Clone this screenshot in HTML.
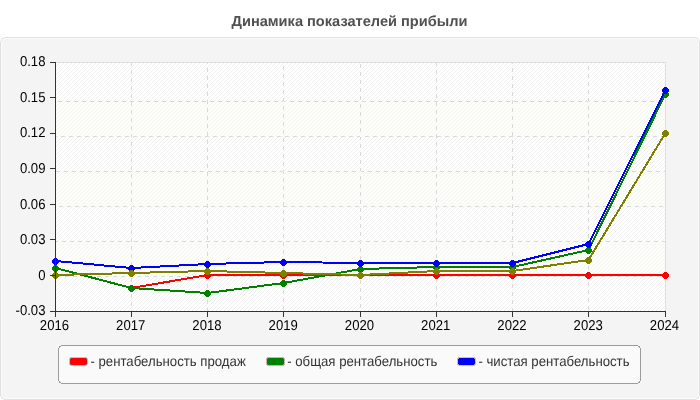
<!DOCTYPE html><html><head><meta charset="utf-8"><style>html,body{margin:0;padding:0;background:#fff;width:700px;height:400px;overflow:hidden}#c{position:absolute;left:0;top:0;width:700px;height:400px;will-change:transform}svg{display:block}text{font-family:"Liberation Sans",sans-serif;text-rendering:geometricPrecision}</style></head><body><div id="c">
<svg width="700" height="400" viewBox="0 0 700 400">
<defs>
<pattern id="h" patternUnits="userSpaceOnUse" x="3" y="0" width="4" height="4"><path d="M-1,1 l2,-2 M0,4 l4,-4 M3,5 l2,-2" stroke="#f0f0f0" stroke-width="1" shape-rendering="crispEdges"/></pattern>
<pattern id="h2" patternUnits="userSpaceOnUse" x="3" y="0" width="4" height="4"><path d="M-1,1 l2,-2 M0,4 l4,-4 M3,5 l2,-2" stroke="#f5f5f1" stroke-width="1" shape-rendering="crispEdges"/></pattern>
</defs>
<text x="349.5" y="25.7" text-anchor="middle" font-size="14.6" font-weight="bold" fill="#505050">Динамика показателей прибыли</text>
<rect x="0.5" y="37.5" width="699" height="362" rx="5.5" ry="5.5" fill="#f4f4f4" stroke="#e0e0e0" shape-rendering="crispEdges"/>
<rect x="1.5" y="38.5" width="697" height="360" rx="4.5" ry="4.5" fill="none" stroke="#fbfbfb" shape-rendering="crispEdges"/>
<rect x="55" y="62" width="610" height="249" fill="#fff"/>
<rect x="55" y="62" width="610" height="249" fill="url(#h)"/>
<rect x="55" y="102" width="610" height="35" fill="#fdfdf9"/>
<rect x="55" y="102" width="610" height="35" fill="url(#h2)"/>
<rect x="55" y="172" width="610" height="35" fill="#fdfdf9"/>
<rect x="55" y="172" width="610" height="35" fill="url(#h2)"/>
<rect x="55" y="242" width="610" height="35" fill="#fdfdf9"/>
<rect x="55" y="242" width="610" height="35" fill="url(#h2)"/>
<rect x="55.5" y="62.5" width="610" height="249" fill="none" stroke="#dedede"/>
<path d="M58,101h4v1h-4zM66,101h4v1h-4zM74,101h4v1h-4zM82,101h4v1h-4zM90,101h4v1h-4zM98,101h4v1h-4zM106,101h4v1h-4zM114,101h4v1h-4zM122,101h4v1h-4zM130,101h4v1h-4zM138,101h4v1h-4zM146,101h4v1h-4zM154,101h4v1h-4zM162,101h4v1h-4zM170,101h4v1h-4zM178,101h4v1h-4zM186,101h4v1h-4zM194,101h4v1h-4zM202,101h4v1h-4zM210,101h4v1h-4zM218,101h4v1h-4zM226,101h4v1h-4zM234,101h4v1h-4zM242,101h4v1h-4zM250,101h4v1h-4zM258,101h4v1h-4zM266,101h4v1h-4zM274,101h4v1h-4zM282,101h4v1h-4zM290,101h4v1h-4zM298,101h4v1h-4zM306,101h4v1h-4zM314,101h4v1h-4zM322,101h4v1h-4zM330,101h4v1h-4zM338,101h4v1h-4zM346,101h4v1h-4zM354,101h4v1h-4zM362,101h4v1h-4zM370,101h4v1h-4zM378,101h4v1h-4zM386,101h4v1h-4zM394,101h4v1h-4zM402,101h4v1h-4zM410,101h4v1h-4zM418,101h4v1h-4zM426,101h4v1h-4zM434,101h4v1h-4zM442,101h4v1h-4zM450,101h4v1h-4zM458,101h4v1h-4zM466,101h4v1h-4zM474,101h4v1h-4zM482,101h4v1h-4zM490,101h4v1h-4zM498,101h4v1h-4zM506,101h4v1h-4zM514,101h4v1h-4zM522,101h4v1h-4zM530,101h4v1h-4zM538,101h4v1h-4zM546,101h4v1h-4zM554,101h4v1h-4zM562,101h4v1h-4zM570,101h4v1h-4zM578,101h4v1h-4zM586,101h4v1h-4zM594,101h4v1h-4zM602,101h4v1h-4zM610,101h4v1h-4zM618,101h4v1h-4zM626,101h4v1h-4zM634,101h4v1h-4zM642,101h4v1h-4zM650,101h4v1h-4zM658,101h4v1h-4zM56,136h1v1h-1zM61,136h4v1h-4zM69,136h4v1h-4zM77,136h4v1h-4zM85,136h4v1h-4zM93,136h4v1h-4zM101,136h4v1h-4zM109,136h4v1h-4zM117,136h4v1h-4zM125,136h4v1h-4zM133,136h4v1h-4zM141,136h4v1h-4zM149,136h4v1h-4zM157,136h4v1h-4zM165,136h4v1h-4zM173,136h4v1h-4zM181,136h4v1h-4zM189,136h4v1h-4zM197,136h4v1h-4zM205,136h4v1h-4zM213,136h4v1h-4zM221,136h4v1h-4zM229,136h4v1h-4zM237,136h4v1h-4zM245,136h4v1h-4zM253,136h4v1h-4zM261,136h4v1h-4zM269,136h4v1h-4zM277,136h4v1h-4zM285,136h4v1h-4zM293,136h4v1h-4zM301,136h4v1h-4zM309,136h4v1h-4zM317,136h4v1h-4zM325,136h4v1h-4zM333,136h4v1h-4zM341,136h4v1h-4zM349,136h4v1h-4zM357,136h4v1h-4zM365,136h4v1h-4zM373,136h4v1h-4zM381,136h4v1h-4zM389,136h4v1h-4zM397,136h4v1h-4zM405,136h4v1h-4zM413,136h4v1h-4zM421,136h4v1h-4zM429,136h4v1h-4zM437,136h4v1h-4zM445,136h4v1h-4zM453,136h4v1h-4zM461,136h4v1h-4zM469,136h4v1h-4zM477,136h4v1h-4zM485,136h4v1h-4zM493,136h4v1h-4zM501,136h4v1h-4zM509,136h4v1h-4zM517,136h4v1h-4zM525,136h4v1h-4zM533,136h4v1h-4zM541,136h4v1h-4zM549,136h4v1h-4zM557,136h4v1h-4zM565,136h4v1h-4zM573,136h4v1h-4zM581,136h4v1h-4zM589,136h4v1h-4zM597,136h4v1h-4zM605,136h4v1h-4zM613,136h4v1h-4zM621,136h4v1h-4zM629,136h4v1h-4zM637,136h4v1h-4zM645,136h4v1h-4zM653,136h4v1h-4zM661,136h4v1h-4zM56,171h4v1h-4zM64,171h4v1h-4zM72,171h4v1h-4zM80,171h4v1h-4zM88,171h4v1h-4zM96,171h4v1h-4zM104,171h4v1h-4zM112,171h4v1h-4zM120,171h4v1h-4zM128,171h4v1h-4zM136,171h4v1h-4zM144,171h4v1h-4zM152,171h4v1h-4zM160,171h4v1h-4zM168,171h4v1h-4zM176,171h4v1h-4zM184,171h4v1h-4zM192,171h4v1h-4zM200,171h4v1h-4zM208,171h4v1h-4zM216,171h4v1h-4zM224,171h4v1h-4zM232,171h4v1h-4zM240,171h4v1h-4zM248,171h4v1h-4zM256,171h4v1h-4zM264,171h4v1h-4zM272,171h4v1h-4zM280,171h4v1h-4zM288,171h4v1h-4zM296,171h4v1h-4zM304,171h4v1h-4zM312,171h4v1h-4zM320,171h4v1h-4zM328,171h4v1h-4zM336,171h4v1h-4zM344,171h4v1h-4zM352,171h4v1h-4zM360,171h4v1h-4zM368,171h4v1h-4zM376,171h4v1h-4zM384,171h4v1h-4zM392,171h4v1h-4zM400,171h4v1h-4zM408,171h4v1h-4zM416,171h4v1h-4zM424,171h4v1h-4zM432,171h4v1h-4zM440,171h4v1h-4zM448,171h4v1h-4zM456,171h4v1h-4zM464,171h4v1h-4zM472,171h4v1h-4zM480,171h4v1h-4zM488,171h4v1h-4zM496,171h4v1h-4zM504,171h4v1h-4zM512,171h4v1h-4zM520,171h4v1h-4zM528,171h4v1h-4zM536,171h4v1h-4zM544,171h4v1h-4zM552,171h4v1h-4zM560,171h4v1h-4zM568,171h4v1h-4zM576,171h4v1h-4zM584,171h4v1h-4zM592,171h4v1h-4zM600,171h4v1h-4zM608,171h4v1h-4zM616,171h4v1h-4zM624,171h4v1h-4zM632,171h4v1h-4zM640,171h4v1h-4zM648,171h4v1h-4zM656,171h4v1h-4zM664,171h1v1h-1zM59,206h4v1h-4zM67,206h4v1h-4zM75,206h4v1h-4zM83,206h4v1h-4zM91,206h4v1h-4zM99,206h4v1h-4zM107,206h4v1h-4zM115,206h4v1h-4zM123,206h4v1h-4zM131,206h4v1h-4zM139,206h4v1h-4zM147,206h4v1h-4zM155,206h4v1h-4zM163,206h4v1h-4zM171,206h4v1h-4zM179,206h4v1h-4zM187,206h4v1h-4zM195,206h4v1h-4zM203,206h4v1h-4zM211,206h4v1h-4zM219,206h4v1h-4zM227,206h4v1h-4zM235,206h4v1h-4zM243,206h4v1h-4zM251,206h4v1h-4zM259,206h4v1h-4zM267,206h4v1h-4zM275,206h4v1h-4zM283,206h4v1h-4zM291,206h4v1h-4zM299,206h4v1h-4zM307,206h4v1h-4zM315,206h4v1h-4zM323,206h4v1h-4zM331,206h4v1h-4zM339,206h4v1h-4zM347,206h4v1h-4zM355,206h4v1h-4zM363,206h4v1h-4zM371,206h4v1h-4zM379,206h4v1h-4zM387,206h4v1h-4zM395,206h4v1h-4zM403,206h4v1h-4zM411,206h4v1h-4zM419,206h4v1h-4zM427,206h4v1h-4zM435,206h4v1h-4zM443,206h4v1h-4zM451,206h4v1h-4zM459,206h4v1h-4zM467,206h4v1h-4zM475,206h4v1h-4zM483,206h4v1h-4zM491,206h4v1h-4zM499,206h4v1h-4zM507,206h4v1h-4zM515,206h4v1h-4zM523,206h4v1h-4zM531,206h4v1h-4zM539,206h4v1h-4zM547,206h4v1h-4zM555,206h4v1h-4zM563,206h4v1h-4zM571,206h4v1h-4zM579,206h4v1h-4zM587,206h4v1h-4zM595,206h4v1h-4zM603,206h4v1h-4zM611,206h4v1h-4zM619,206h4v1h-4zM627,206h4v1h-4zM635,206h4v1h-4zM643,206h4v1h-4zM651,206h4v1h-4zM659,206h4v1h-4zM56,241h2v1h-2zM62,241h4v1h-4zM70,241h4v1h-4zM78,241h4v1h-4zM86,241h4v1h-4zM94,241h4v1h-4zM102,241h4v1h-4zM110,241h4v1h-4zM118,241h4v1h-4zM126,241h4v1h-4zM134,241h4v1h-4zM142,241h4v1h-4zM150,241h4v1h-4zM158,241h4v1h-4zM166,241h4v1h-4zM174,241h4v1h-4zM182,241h4v1h-4zM190,241h4v1h-4zM198,241h4v1h-4zM206,241h4v1h-4zM214,241h4v1h-4zM222,241h4v1h-4zM230,241h4v1h-4zM238,241h4v1h-4zM246,241h4v1h-4zM254,241h4v1h-4zM262,241h4v1h-4zM270,241h4v1h-4zM278,241h4v1h-4zM286,241h4v1h-4zM294,241h4v1h-4zM302,241h4v1h-4zM310,241h4v1h-4zM318,241h4v1h-4zM326,241h4v1h-4zM334,241h4v1h-4zM342,241h4v1h-4zM350,241h4v1h-4zM358,241h4v1h-4zM366,241h4v1h-4zM374,241h4v1h-4zM382,241h4v1h-4zM390,241h4v1h-4zM398,241h4v1h-4zM406,241h4v1h-4zM414,241h4v1h-4zM422,241h4v1h-4zM430,241h4v1h-4zM438,241h4v1h-4zM446,241h4v1h-4zM454,241h4v1h-4zM462,241h4v1h-4zM470,241h4v1h-4zM478,241h4v1h-4zM486,241h4v1h-4zM494,241h4v1h-4zM502,241h4v1h-4zM510,241h4v1h-4zM518,241h4v1h-4zM526,241h4v1h-4zM534,241h4v1h-4zM542,241h4v1h-4zM550,241h4v1h-4zM558,241h4v1h-4zM566,241h4v1h-4zM574,241h4v1h-4zM582,241h4v1h-4zM590,241h4v1h-4zM598,241h4v1h-4zM606,241h4v1h-4zM614,241h4v1h-4zM622,241h4v1h-4zM630,241h4v1h-4zM638,241h4v1h-4zM646,241h4v1h-4zM654,241h4v1h-4zM662,241h3v1h-3zM57,276h4v1h-4zM65,276h4v1h-4zM73,276h4v1h-4zM81,276h4v1h-4zM89,276h4v1h-4zM97,276h4v1h-4zM105,276h4v1h-4zM113,276h4v1h-4zM121,276h4v1h-4zM129,276h4v1h-4zM137,276h4v1h-4zM145,276h4v1h-4zM153,276h4v1h-4zM161,276h4v1h-4zM169,276h4v1h-4zM177,276h4v1h-4zM185,276h4v1h-4zM193,276h4v1h-4zM201,276h4v1h-4zM209,276h4v1h-4zM217,276h4v1h-4zM225,276h4v1h-4zM233,276h4v1h-4zM241,276h4v1h-4zM249,276h4v1h-4zM257,276h4v1h-4zM265,276h4v1h-4zM273,276h4v1h-4zM281,276h4v1h-4zM289,276h4v1h-4zM297,276h4v1h-4zM305,276h4v1h-4zM313,276h4v1h-4zM321,276h4v1h-4zM329,276h4v1h-4zM337,276h4v1h-4zM345,276h4v1h-4zM353,276h4v1h-4zM361,276h4v1h-4zM369,276h4v1h-4zM377,276h4v1h-4zM385,276h4v1h-4zM393,276h4v1h-4zM401,276h4v1h-4zM409,276h4v1h-4zM417,276h4v1h-4zM425,276h4v1h-4zM433,276h4v1h-4zM441,276h4v1h-4zM449,276h4v1h-4zM457,276h4v1h-4zM465,276h4v1h-4zM473,276h4v1h-4zM481,276h4v1h-4zM489,276h4v1h-4zM497,276h4v1h-4zM505,276h4v1h-4zM513,276h4v1h-4zM521,276h4v1h-4zM529,276h4v1h-4zM537,276h4v1h-4zM545,276h4v1h-4zM553,276h4v1h-4zM561,276h4v1h-4zM569,276h4v1h-4zM577,276h4v1h-4zM585,276h4v1h-4zM593,276h4v1h-4zM601,276h4v1h-4zM609,276h4v1h-4zM617,276h4v1h-4zM625,276h4v1h-4zM633,276h4v1h-4zM641,276h4v1h-4zM649,276h4v1h-4zM657,276h4v1h-4zM131,63v3h1v-3zM131,70v4h1v-4zM131,78v4h1v-4zM131,86v4h1v-4zM131,94v4h1v-4zM131,102v4h1v-4zM131,110v4h1v-4zM131,118v4h1v-4zM131,126v4h1v-4zM131,134v4h1v-4zM131,142v4h1v-4zM131,150v4h1v-4zM131,158v4h1v-4zM131,166v4h1v-4zM131,174v4h1v-4zM131,182v4h1v-4zM131,190v4h1v-4zM131,198v4h1v-4zM131,206v4h1v-4zM131,214v4h1v-4zM131,222v4h1v-4zM131,230v4h1v-4zM131,238v4h1v-4zM131,246v4h1v-4zM131,254v4h1v-4zM131,262v4h1v-4zM131,270v4h1v-4zM131,278v4h1v-4zM131,286v4h1v-4zM131,294v4h1v-4zM131,302v4h1v-4zM131,310v1h1v-1zM207,63v1h1v-1zM207,68v4h1v-4zM207,76v4h1v-4zM207,84v4h1v-4zM207,92v4h1v-4zM207,100v4h1v-4zM207,108v4h1v-4zM207,116v4h1v-4zM207,124v4h1v-4zM207,132v4h1v-4zM207,140v4h1v-4zM207,148v4h1v-4zM207,156v4h1v-4zM207,164v4h1v-4zM207,172v4h1v-4zM207,180v4h1v-4zM207,188v4h1v-4zM207,196v4h1v-4zM207,204v4h1v-4zM207,212v4h1v-4zM207,220v4h1v-4zM207,228v4h1v-4zM207,236v4h1v-4zM207,244v4h1v-4zM207,252v4h1v-4zM207,260v4h1v-4zM207,268v4h1v-4zM207,276v4h1v-4zM207,284v4h1v-4zM207,292v4h1v-4zM207,300v4h1v-4zM207,308v3h1v-3zM283,66v4h1v-4zM283,74v4h1v-4zM283,82v4h1v-4zM283,90v4h1v-4zM283,98v4h1v-4zM283,106v4h1v-4zM283,114v4h1v-4zM283,122v4h1v-4zM283,130v4h1v-4zM283,138v4h1v-4zM283,146v4h1v-4zM283,154v4h1v-4zM283,162v4h1v-4zM283,170v4h1v-4zM283,178v4h1v-4zM283,186v4h1v-4zM283,194v4h1v-4zM283,202v4h1v-4zM283,210v4h1v-4zM283,218v4h1v-4zM283,226v4h1v-4zM283,234v4h1v-4zM283,242v4h1v-4zM283,250v4h1v-4zM283,258v4h1v-4zM283,266v4h1v-4zM283,274v4h1v-4zM283,282v4h1v-4zM283,290v4h1v-4zM283,298v4h1v-4zM283,306v4h1v-4zM360,64v4h1v-4zM360,72v4h1v-4zM360,80v4h1v-4zM360,88v4h1v-4zM360,96v4h1v-4zM360,104v4h1v-4zM360,112v4h1v-4zM360,120v4h1v-4zM360,128v4h1v-4zM360,136v4h1v-4zM360,144v4h1v-4zM360,152v4h1v-4zM360,160v4h1v-4zM360,168v4h1v-4zM360,176v4h1v-4zM360,184v4h1v-4zM360,192v4h1v-4zM360,200v4h1v-4zM360,208v4h1v-4zM360,216v4h1v-4zM360,224v4h1v-4zM360,232v4h1v-4zM360,240v4h1v-4zM360,248v4h1v-4zM360,256v4h1v-4zM360,264v4h1v-4zM360,272v4h1v-4zM360,280v4h1v-4zM360,288v4h1v-4zM360,296v4h1v-4zM360,304v4h1v-4zM436,63v3h1v-3zM436,70v4h1v-4zM436,78v4h1v-4zM436,86v4h1v-4zM436,94v4h1v-4zM436,102v4h1v-4zM436,110v4h1v-4zM436,118v4h1v-4zM436,126v4h1v-4zM436,134v4h1v-4zM436,142v4h1v-4zM436,150v4h1v-4zM436,158v4h1v-4zM436,166v4h1v-4zM436,174v4h1v-4zM436,182v4h1v-4zM436,190v4h1v-4zM436,198v4h1v-4zM436,206v4h1v-4zM436,214v4h1v-4zM436,222v4h1v-4zM436,230v4h1v-4zM436,238v4h1v-4zM436,246v4h1v-4zM436,254v4h1v-4zM436,262v4h1v-4zM436,270v4h1v-4zM436,278v4h1v-4zM436,286v4h1v-4zM436,294v4h1v-4zM436,302v4h1v-4zM436,310v1h1v-1zM512,63v1h1v-1zM512,68v4h1v-4zM512,76v4h1v-4zM512,84v4h1v-4zM512,92v4h1v-4zM512,100v4h1v-4zM512,108v4h1v-4zM512,116v4h1v-4zM512,124v4h1v-4zM512,132v4h1v-4zM512,140v4h1v-4zM512,148v4h1v-4zM512,156v4h1v-4zM512,164v4h1v-4zM512,172v4h1v-4zM512,180v4h1v-4zM512,188v4h1v-4zM512,196v4h1v-4zM512,204v4h1v-4zM512,212v4h1v-4zM512,220v4h1v-4zM512,228v4h1v-4zM512,236v4h1v-4zM512,244v4h1v-4zM512,252v4h1v-4zM512,260v4h1v-4zM512,268v4h1v-4zM512,276v4h1v-4zM512,284v4h1v-4zM512,292v4h1v-4zM512,300v4h1v-4zM512,308v3h1v-3zM588,66v4h1v-4zM588,74v4h1v-4zM588,82v4h1v-4zM588,90v4h1v-4zM588,98v4h1v-4zM588,106v4h1v-4zM588,114v4h1v-4zM588,122v4h1v-4zM588,130v4h1v-4zM588,138v4h1v-4zM588,146v4h1v-4zM588,154v4h1v-4zM588,162v4h1v-4zM588,170v4h1v-4zM588,178v4h1v-4zM588,186v4h1v-4zM588,194v4h1v-4zM588,202v4h1v-4zM588,210v4h1v-4zM588,218v4h1v-4zM588,226v4h1v-4zM588,234v4h1v-4zM588,242v4h1v-4zM588,250v4h1v-4zM588,258v4h1v-4zM588,266v4h1v-4zM588,274v4h1v-4zM588,282v4h1v-4zM588,290v4h1v-4zM588,298v4h1v-4zM588,306v4h1v-4z" fill="#d9d9d9" shape-rendering="crispEdges"/>
<polyline points="131.50,288.00 207.50,275.00 283.50,275.00 360.50,275.00 436.50,275.00 512.50,275.00 588.50,275.00 665.50,275.00" fill="none" stroke="#ff0000" stroke-width="2" stroke-linejoin="round" shape-rendering="crispEdges"/>
<circle cx="131.5" cy="288.5" r="3.4" fill="#ff0000" shape-rendering="crispEdges"/>
<circle cx="207.5" cy="275.5" r="3.4" fill="#ff0000" shape-rendering="crispEdges"/>
<circle cx="283.5" cy="275.5" r="3.4" fill="#ff0000" shape-rendering="crispEdges"/>
<circle cx="360.5" cy="275.5" r="3.4" fill="#ff0000" shape-rendering="crispEdges"/>
<circle cx="436.5" cy="275.5" r="3.4" fill="#ff0000" shape-rendering="crispEdges"/>
<circle cx="512.5" cy="275.5" r="3.4" fill="#ff0000" shape-rendering="crispEdges"/>
<circle cx="588.5" cy="275.5" r="3.4" fill="#ff0000" shape-rendering="crispEdges"/>
<circle cx="665.5" cy="275.5" r="3.4" fill="#ff0000" shape-rendering="crispEdges"/>
<polyline points="55.50,268.00 131.50,288.00 207.50,293.00 283.50,283.00 360.50,269.00 436.50,267.00 512.50,267.00 588.50,250.00 665.50,94.00" fill="none" stroke="#008000" stroke-width="2" stroke-linejoin="round" shape-rendering="crispEdges"/>
<circle cx="55.5" cy="268.5" r="3.4" fill="#008000" shape-rendering="crispEdges"/>
<circle cx="131.5" cy="288.5" r="3.4" fill="#008000" shape-rendering="crispEdges"/>
<circle cx="207.5" cy="293.5" r="3.4" fill="#008000" shape-rendering="crispEdges"/>
<circle cx="283.5" cy="283.5" r="3.4" fill="#008000" shape-rendering="crispEdges"/>
<circle cx="360.5" cy="269.5" r="3.4" fill="#008000" shape-rendering="crispEdges"/>
<circle cx="436.5" cy="267.5" r="3.4" fill="#008000" shape-rendering="crispEdges"/>
<circle cx="512.5" cy="267.5" r="3.4" fill="#008000" shape-rendering="crispEdges"/>
<circle cx="588.5" cy="250.5" r="3.4" fill="#008000" shape-rendering="crispEdges"/>
<circle cx="665.5" cy="94.5" r="3.4" fill="#008000" shape-rendering="crispEdges"/>
<polyline points="55.50,261.00 131.50,268.00 207.50,264.00 283.50,262.00 360.50,263.00 436.50,263.00 512.50,263.00 588.50,244.00 665.50,90.00" fill="none" stroke="#0000ff" stroke-width="2" stroke-linejoin="round" shape-rendering="crispEdges"/>
<circle cx="55.5" cy="261.5" r="3.4" fill="#0000ff" shape-rendering="crispEdges"/>
<circle cx="131.5" cy="268.5" r="3.4" fill="#0000ff" shape-rendering="crispEdges"/>
<circle cx="207.5" cy="264.5" r="3.4" fill="#0000ff" shape-rendering="crispEdges"/>
<circle cx="283.5" cy="262.5" r="3.4" fill="#0000ff" shape-rendering="crispEdges"/>
<circle cx="360.5" cy="263.5" r="3.4" fill="#0000ff" shape-rendering="crispEdges"/>
<circle cx="436.5" cy="263.5" r="3.4" fill="#0000ff" shape-rendering="crispEdges"/>
<circle cx="512.5" cy="263.5" r="3.4" fill="#0000ff" shape-rendering="crispEdges"/>
<circle cx="588.5" cy="244.5" r="3.4" fill="#0000ff" shape-rendering="crispEdges"/>
<circle cx="665.5" cy="90.5" r="3.4" fill="#0000ff" shape-rendering="crispEdges"/>
<polyline points="55.50,275.00 131.50,273.00 207.50,271.00 283.50,273.00 360.50,275.00 436.50,271.00 512.50,271.00 588.50,260.00 665.50,133.00" fill="none" stroke="#808000" stroke-width="2" stroke-linejoin="round" shape-rendering="crispEdges"/>
<circle cx="55.5" cy="275.5" r="3.4" fill="#808000" shape-rendering="crispEdges"/>
<circle cx="131.5" cy="273.5" r="3.4" fill="#808000" shape-rendering="crispEdges"/>
<circle cx="207.5" cy="271.5" r="3.4" fill="#808000" shape-rendering="crispEdges"/>
<circle cx="283.5" cy="273.5" r="3.4" fill="#808000" shape-rendering="crispEdges"/>
<circle cx="360.5" cy="275.5" r="3.4" fill="#808000" shape-rendering="crispEdges"/>
<circle cx="436.5" cy="271.5" r="3.4" fill="#808000" shape-rendering="crispEdges"/>
<circle cx="512.5" cy="271.5" r="3.4" fill="#808000" shape-rendering="crispEdges"/>
<circle cx="588.5" cy="260.5" r="3.4" fill="#808000" shape-rendering="crispEdges"/>
<circle cx="665.5" cy="133.5" r="3.4" fill="#808000" shape-rendering="crispEdges"/>
<line x1="55.5" y1="62" x2="55.5" y2="312" stroke="#333"/>
<line x1="55" y1="311.5" x2="666" y2="311.5" stroke="#333"/>
<line x1="50" y1="62.5" x2="55" y2="62.5" stroke="#333"/>
<text transform="translate(45.5,66.30) scale(0.092,0.1)" text-anchor="end" font-size="143.0" fill="#000">0.18</text>
<line x1="50" y1="97.5" x2="55" y2="97.5" stroke="#333"/>
<text transform="translate(45.5,101.87) scale(0.092,0.1)" text-anchor="end" font-size="143.0" fill="#000">0.15</text>
<line x1="50" y1="133.5" x2="55" y2="133.5" stroke="#333"/>
<text transform="translate(45.5,137.44) scale(0.092,0.1)" text-anchor="end" font-size="143.0" fill="#000">0.12</text>
<line x1="50" y1="168.5" x2="55" y2="168.5" stroke="#333"/>
<text transform="translate(45.5,173.01) scale(0.092,0.1)" text-anchor="end" font-size="143.0" fill="#000">0.09</text>
<line x1="50" y1="204.5" x2="55" y2="204.5" stroke="#333"/>
<text transform="translate(45.5,208.59) scale(0.092,0.1)" text-anchor="end" font-size="143.0" fill="#000">0.06</text>
<line x1="50" y1="239.5" x2="55" y2="239.5" stroke="#333"/>
<text transform="translate(45.5,244.16) scale(0.092,0.1)" text-anchor="end" font-size="143.0" fill="#000">0.03</text>
<line x1="50" y1="275.5" x2="55" y2="275.5" stroke="#333"/>
<text transform="translate(45.5,279.73) scale(0.092,0.1)" text-anchor="end" font-size="143.0" fill="#000">0</text>
<line x1="50" y1="311.5" x2="55" y2="311.5" stroke="#333"/>
<text transform="translate(45.5,315.30) scale(0.092,0.1)" text-anchor="end" font-size="143.0" fill="#000">-0.03</text>
<line x1="55.5" y1="311" x2="55.5" y2="317" stroke="#333"/>
<text transform="translate(54.50,329.9) scale(0.092,0.1)" text-anchor="middle" font-size="143.0" fill="#000">2016</text>
<line x1="131.5" y1="311" x2="131.5" y2="317" stroke="#333"/>
<text transform="translate(130.75,329.9) scale(0.092,0.1)" text-anchor="middle" font-size="143.0" fill="#000">2017</text>
<line x1="207.5" y1="311" x2="207.5" y2="317" stroke="#333"/>
<text transform="translate(207.00,329.9) scale(0.092,0.1)" text-anchor="middle" font-size="143.0" fill="#000">2018</text>
<line x1="283.5" y1="311" x2="283.5" y2="317" stroke="#333"/>
<text transform="translate(283.25,329.9) scale(0.092,0.1)" text-anchor="middle" font-size="143.0" fill="#000">2019</text>
<line x1="360.5" y1="311" x2="360.5" y2="317" stroke="#333"/>
<text transform="translate(359.50,329.9) scale(0.092,0.1)" text-anchor="middle" font-size="143.0" fill="#000">2020</text>
<line x1="436.5" y1="311" x2="436.5" y2="317" stroke="#333"/>
<text transform="translate(435.75,329.9) scale(0.092,0.1)" text-anchor="middle" font-size="143.0" fill="#000">2021</text>
<line x1="512.5" y1="311" x2="512.5" y2="317" stroke="#333"/>
<text transform="translate(512.00,329.9) scale(0.092,0.1)" text-anchor="middle" font-size="143.0" fill="#000">2022</text>
<line x1="588.5" y1="311" x2="588.5" y2="317" stroke="#333"/>
<text transform="translate(588.25,329.9) scale(0.092,0.1)" text-anchor="middle" font-size="143.0" fill="#000">2023</text>
<line x1="665.5" y1="311" x2="665.5" y2="317" stroke="#333"/>
<text transform="translate(664.50,329.9) scale(0.092,0.1)" text-anchor="middle" font-size="143.0" fill="#000">2024</text>
<path d="M61,346h577v2h2v33h-2v2h-577v-2h-2v-33h2z" fill="#fafafa" shape-rendering="crispEdges"/>
<path d="M61,345h577v1h-577zM59,346h2v1h-2zM638,346h2v1h-2zM59,347h1v1h-1zM639,347h1v1h-1zM58,348h1v33h-1zM640,348h1v33h-1zM59,381h1v1h-1zM639,381h1v1h-1zM59,382h2v1h-2zM638,382h2v1h-2zM61,383h577v1h-577z" fill="#9c9c9c" shape-rendering="crispEdges"/>
<path d="M70,357h17v1h-17zM70,365h17v1h-17zM69,358h1v7h-1zM87,358h1v7h-1z" fill="#b2caca" shape-rendering="crispEdges"/>
<rect x="70" y="358" width="17" height="7" fill="#ff0000" shape-rendering="crispEdges"/>
<path d="M70,358h1v1h-1zM86,358h1v1h-1zM70,364h1v1h-1zM86,364h1v1h-1z" fill="#8fa0a0" shape-rendering="crispEdges"/>
<text transform="translate(90.4,365.6) scale(0.936,1)" font-size="14.1" fill="#333">- рентабельность продаж</text>
<path d="M267,357h17v1h-17zM267,365h17v1h-17zM266,358h1v7h-1zM284,358h1v7h-1z" fill="#c4b2c4" shape-rendering="crispEdges"/>
<rect x="267" y="358" width="17" height="7" fill="#008000" shape-rendering="crispEdges"/>
<path d="M267,358h1v1h-1zM283,358h1v1h-1zM267,364h1v1h-1zM283,364h1v1h-1z" fill="#a090a0" shape-rendering="crispEdges"/>
<text transform="translate(287.2,365.6) scale(0.936,1)" font-size="14.1" fill="#333">- общая рентабельность</text>
<path d="M458,357h17v1h-17zM458,365h17v1h-17zM457,358h1v7h-1zM475,358h1v7h-1z" fill="#cdc6a8" shape-rendering="crispEdges"/>
<rect x="458" y="358" width="17" height="7" fill="#0000ff" shape-rendering="crispEdges"/>
<path d="M458,358h1v1h-1zM474,358h1v1h-1zM458,364h1v1h-1zM474,364h1v1h-1z" fill="#a8a088" shape-rendering="crispEdges"/>
<text transform="translate(478.4,365.6) scale(0.936,1)" font-size="14.1" fill="#333">- чистая рентабельность</text>
</svg></div></body></html>
